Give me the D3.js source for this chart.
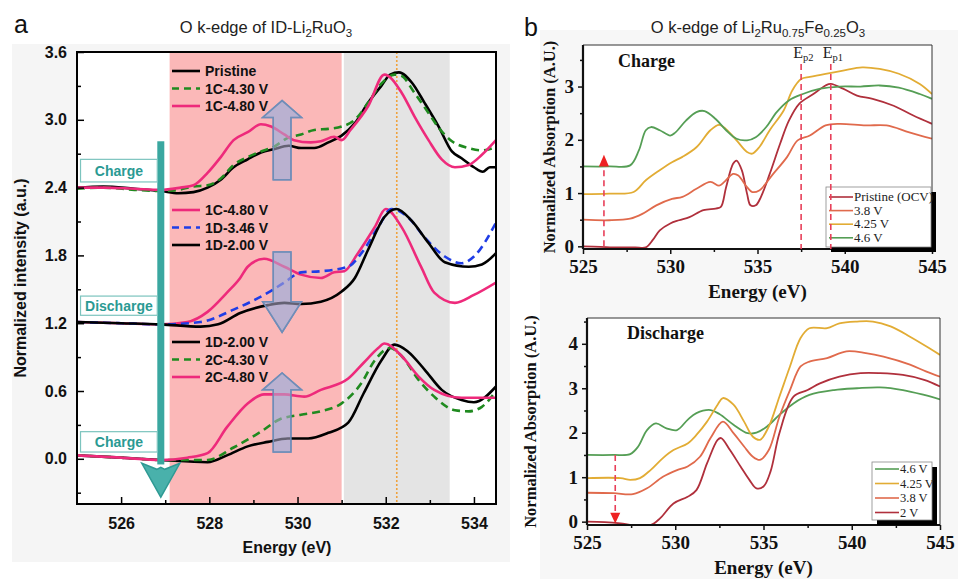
<!doctype html>
<html>
<head>
<meta charset="utf-8">
<script src="https://cdnjs.cloudflare.com/ajax/libs/d3/7.8.5/d3.min.js"></script>
<style>
  body { margin: 0; background: #fff; }
  svg { display: block; }
  .sans { font-family: 'Liberation Sans', Arial, sans-serif; }
  .serif { font-family: 'Liberation Serif', 'Times New Roman', serif; }
</style>
</head>
<body>
<script>
// ---------- panel a : O k-edge of ID-Li2RuO3 ----------
const aXTicks = [526, 528, 530, 532, 534]
const aYTicks = [0, 0.6, 1.2, 1.8, 2.4, 3.0, 3.6]
const aPinkBand = [527.1, 531.0]
const aGreyBand = [531.05, 533.45]
const aPeakLine = 532.25

// charge 1 (offset 2.4)
const pristine = [[525,2.40],[525.6,2.41],[526.3,2.39],[526.9,2.37],[527.3,2.35],[527.64,2.36],[527.96,2.40],[528.26,2.47],[528.55,2.58],[528.87,2.65],[529.17,2.71],[529.46,2.74],[529.8,2.77],[530.08,2.75],[530.38,2.75],[530.7,2.80],[531.0,2.86],[531.3,2.97],[531.6,3.15],[531.9,3.30],[532.1,3.40],[532.3,3.42],[532.59,3.33],[532.88,3.15],[533.2,2.94],[533.5,2.72],[533.72,2.66],[534.0,2.58],[534.2,2.54],[534.36,2.58],[534.5,2.58]]
const c1_430 = [[525,2.39],[525.6,2.40],[526.3,2.38],[526.9,2.37],[527.3,2.38],[527.64,2.41],[527.96,2.42],[528.26,2.48],[528.55,2.60],[528.87,2.67],[529.17,2.72],[529.46,2.76],[529.78,2.84],[530.08,2.87],[530.38,2.91],[530.7,2.92],[531.0,2.94],[531.3,3.0],[531.6,3.15],[531.9,3.32],[532.2,3.40],[532.35,3.39],[532.65,3.24],[532.97,3.06],[533.2,2.93],[533.5,2.81],[533.88,2.75],[534.18,2.73],[534.5,2.76]]
const c1_480 = [[525,2.40],[525.6,2.40],[526.3,2.39],[526.9,2.38],[527.35,2.40],[527.64,2.42],[527.96,2.53],[528.26,2.67],[528.55,2.82],[528.87,2.89],[529.17,2.96],[529.4,2.94],[529.7,2.87],[529.92,2.82],[530.3,2.80],[530.53,2.81],[530.83,2.85],[531.0,2.82],[531.2,2.91],[531.6,3.12],[531.97,3.40],[532.36,3.24],[532.65,3.03],[532.97,2.82],[533.27,2.65],[533.57,2.58],[533.88,2.60],[534.18,2.69],[534.5,2.82]]
// discharge 1 (offset 1.2)
const c1_480b = [[525,1.21],[526,1.20],[526.9,1.19],[527.5,1.21],[527.96,1.30],[528.4,1.47],[528.7,1.60],[528.87,1.70],[529.24,1.77],[529.7,1.70],[530.08,1.63],[530.53,1.60],[530.83,1.65],[531.06,1.66],[531.37,1.82],[531.75,2.05],[532.0,2.21],[532.36,2.05],[532.8,1.70],[533.1,1.47],[533.57,1.38],[534.0,1.45],[534.5,1.56]]
const d1_346 = [[525,1.21],[526,1.20],[526.9,1.19],[527.8,1.21],[528.55,1.32],[529.33,1.47],[529.7,1.56],[530.08,1.65],[530.53,1.66],[531.15,1.70],[531.45,1.82],[531.83,2.05],[532.13,2.21],[532.5,2.14],[532.88,1.96],[533.34,1.79],[533.72,1.73],[534.0,1.79],[534.5,2.09]]
const d1_200 = [[525,1.21],[526,1.20],[526.9,1.19],[527.8,1.17],[528.2,1.19],[528.7,1.29],[529.33,1.36],[529.7,1.38],[530.08,1.37],[530.53,1.39],[531.0,1.48],[531.3,1.60],[531.6,1.85],[531.97,2.14],[532.24,2.21],[532.58,2.11],[532.97,1.91],[533.34,1.74],[533.88,1.70],[534.18,1.72],[534.5,1.82]]
// charge 2 (offset 0)
const d1_200b = [[525,0.03],[526,0.01],[526.9,-0.01],[527.96,-0.03],[528.4,0.03],[528.87,0.11],[529.33,0.15],[529.78,0.18],[530.24,0.18],[530.7,0.23],[531.15,0.32],[531.5,0.58],[531.9,0.87],[532.2,1.01],[532.5,0.95],[532.88,0.79],[533.27,0.61],[533.72,0.52],[534.0,0.50],[534.5,0.64]]
const c2_430 = [[525,0.03],[526,0.01],[526.9,-0.01],[527.96,-0.01],[528.55,0.10],[529.17,0.24],[529.6,0.35],[530.08,0.39],[530.53,0.42],[531.0,0.49],[531.45,0.67],[531.75,0.87],[532.1,0.98],[532.36,0.91],[532.74,0.70],[533.1,0.55],[533.57,0.43],[533.88,0.42],[534.18,0.46],[534.5,0.60]]
const c2_480 = [[525,0.03],[526,0.01],[526.9,-0.01],[527.5,0.01],[527.96,0.05],[528.4,0.28],[528.87,0.49],[529.24,0.57],[529.7,0.57],[530.15,0.55],[530.53,0.61],[531.15,0.71],[531.5,0.85],[531.83,0.98],[531.97,1.02],[532.36,0.91],[532.74,0.73],[533.1,0.61],[533.72,0.54],[534.18,0.54],[534.5,0.54]]

const aGroups = [
  { labels: ['Pristine', '1C-4.30 V', '1C-4.80 V'], series: [pristine, c1_430, c1_480], kinds: ['black', 'green', 'pink'] },
  { labels: ['1C-4.80 V', '1D-3.46 V', '1D-2.00 V'], series: [c1_480b, d1_346, d1_200], kinds: ['pink', 'blue', 'black'] },
  { labels: ['1D-2.00 V', '2C-4.30 V', '2C-4.80 V'], series: [d1_200b, c2_430, c2_480], kinds: ['black', 'green', 'pink'] }
]
const stateLabels = ['Charge', 'Discharge', 'Charge']
// block arrows: [energy, tail, headBase, tip]
const blockArrows = [[529.65, 2.47, 3.02, 3.17], [529.65, 1.83, 1.39, 1.12], [529.65, 0.06, 0.61, 0.76]]

// ---------- panel b : O k-edge of Li2Ru0.75Fe0.25O3 ----------
const bXTicks = [525, 530, 535, 540, 545]
const chargeLabels = ['Pristine (OCV)', '3.8 V', '4.25 V', '4.6 V']
const chPristine = [[525,0],[526,-0.01],[527,-0.02],[528,-0.02],[528.6,-0.02],[529.0,0.12],[529.4,0.30],[530.0,0.43],[530.5,0.49],[531.1,0.55],[531.9,0.68],[532.6,0.71],[532.9,0.74],[533.2,1.11],[533.6,1.55],[533.8,1.61],[534.1,1.43],[534.4,0.99],[534.6,0.77],[534.9,0.77],[535.2,0.93],[535.7,1.36],[536.3,1.93],[536.8,2.36],[537.4,2.68],[538.2,2.86],[538.9,3.02],[539.2,3.05],[539.9,2.96],[540.7,2.83],[541.6,2.77],[542.8,2.64],[543.9,2.46],[545,2.30]]
const ch38 = [[525,0.50],[526.5,0.49],[527.7,0.52],[528.4,0.61],[529.2,0.77],[530.1,0.89],[530.7,0.93],[531.5,1.08],[532.3,1.21],[532.8,1.14],[533.1,1.21],[533.6,1.36],[533.9,1.33],[534.4,1.11],[534.7,1.02],[535.1,1.05],[535.9,1.36],[536.7,1.68],[537.3,1.99],[538.0,2.08],[538.9,2.27],[539.7,2.30],[541.2,2.27],[542.4,2.27],[543.7,2.14],[545,2.02]]
const ch425 = [[525,0.98],[526.5,0.99],[527.9,1.02],[528.6,1.24],[529.4,1.43],[530.1,1.58],[530.7,1.68],[531.5,1.86],[532.3,2.18],[532.8,2.28],[533.2,2.20],[533.8,1.99],[534.4,1.77],[534.7,1.74],[535.1,1.86],[535.7,2.18],[536.5,2.55],[537.0,2.93],[537.5,3.14],[538.0,3.18],[538.9,3.24],[539.9,3.30],[541.0,3.36],[542.0,3.33],[543.1,3.24],[544.3,3.05],[545,2.86]]
const ch46 = [[525,1.50],[526.5,1.50],[527.7,1.52],[528.2,1.80],[528.6,2.18],[528.9,2.24],[529.4,2.18],[530.0,2.08],[530.3,2.14],[530.9,2.36],[531.5,2.52],[531.97,2.54],[532.6,2.39],[533.2,2.18],[533.8,2.02],[534.4,1.99],[534.9,2.05],[535.5,2.24],[536.1,2.52],[536.8,2.74],[537.6,2.86],[538.6,2.96],[539.7,3.00],[540.9,3.00],[542.0,3.02],[543.1,2.98],[544.3,2.86],[545,2.77]]
const epLines = [537.5, 539.2]

const dischargeLabels = ['4.6 V', '4.25 V', '3.8 V', '2 V']
const dc46 = [[525,1.50],[526.5,1.50],[527.45,1.52],[527.9,1.69],[528.4,2.06],[528.9,2.21],[529.5,2.10],[530.1,2.06],[530.7,2.29],[531.2,2.44],[532.0,2.51],[532.5,2.42],[533.3,2.18],[534.1,1.99],[534.6,2.00],[535.2,2.14],[535.9,2.40],[536.7,2.66],[537.6,2.85],[539.0,2.96],[540.3,3.00],[541.6,3.02],[542.9,2.96],[544.1,2.85],[545,2.75]]
const dc425 = [[525,0.98],[526.9,0.98],[527.45,0.94],[528.0,0.98],[528.6,1.16],[529.3,1.43],[529.9,1.61],[530.7,1.76],[531.2,1.95],[531.8,2.25],[532.4,2.63],[532.7,2.78],[533.3,2.63],[533.9,2.25],[534.4,1.91],[534.8,1.84],[535.3,2.14],[535.9,2.81],[536.5,3.49],[537.1,4.13],[537.6,4.35],[538.6,4.35],[539.3,4.46],[540.3,4.50],[541.2,4.50],[542.2,4.39],[543.3,4.16],[544.4,3.90],[545,3.75]]
const dc38 = [[525,0.65],[526.5,0.64],[527.6,0.62],[528.4,0.75],[529.3,1.01],[530.1,1.16],[530.7,1.24],[531.4,1.46],[532.0,1.88],[532.7,2.25],[533.3,1.99],[533.9,1.69],[534.4,1.46],[534.8,1.39],[535.3,1.61],[535.9,2.36],[536.5,2.96],[537.1,3.49],[537.6,3.60],[538.6,3.68],[539.7,3.83],[540.8,3.79],[541.8,3.71],[543.3,3.53],[544.2,3.38],[545,3.26]]
const dc2 = [[525,0],[526,-0.01],[526.9,-0.04],[527.6,-0.08],[528.6,-0.08],[529.15,0.08],[529.9,0.41],[530.7,0.56],[531.2,0.71],[531.8,1.31],[532.4,1.84],[532.6,1.88],[533.1,1.61],[533.7,1.24],[534.2,0.94],[534.6,0.75],[535.0,0.79],[535.4,1.13],[535.9,1.99],[536.7,2.81],[537.5,2.96],[538.2,3.11],[539.3,3.26],[540.5,3.34],[541.6,3.34],[542.9,3.30],[544.1,3.19],[545,3.04]]

const W = 964, H = 579
const svg = d3.select('body').append('svg').attr('width', W).attr('height', H)

// faint figure backgrounds
svg.append('rect').attr('x', 12).attr('y', 44).attr('width', 498).attr('height', 518).attr('fill', '#f5f5f5')
svg.append('rect').attr('x', 540).attr('y', 30).attr('width', 418).attr('height', 549).attr('fill', '#f7f7f7')

// ================= PANEL A =================
const ax = d3.scaleLinear().domain([525, 534.5]).range([77, 496])
const ay = d3.scaleLinear().domain([-0.4, 3.6]).range([504, 52])
const pa = svg.append('g').attr('class', 'sans')

pa.append('rect').attr('x', ax(525)).attr('y', ay(3.6)).attr('width', ax(534.5) - ax(525)).attr('height', ay(-0.4) - ay(3.6)).attr('fill', '#fff')
pa.append('rect').attr('x', ax(aPinkBand[0])).attr('y', ay(3.6)).attr('width', ax(aPinkBand[1]) - ax(aPinkBand[0])).attr('height', ay(-0.4) - ay(3.6)).attr('fill', '#fbb8b8')
pa.append('rect').attr('x', ax(aGreyBand[0])).attr('y', ay(3.6)).attr('width', ax(aGreyBand[1]) - ax(aGreyBand[0])).attr('height', ay(-0.4) - ay(3.6)).attr('fill', '#e4e4e4')
pa.append('line').attr('x1', ax(aPeakLine)).attr('x2', ax(aPeakLine)).attr('y1', ay(3.6)).attr('y2', ay(-0.4))
  .attr('stroke', '#f0a23c').attr('stroke-width', 1.6).attr('stroke-dasharray', '2,2')

pa.append('defs').append('clipPath').attr('id', 'clipA').append('rect')
  .attr('x', ax(525)).attr('y', ay(3.6)).attr('width', ax(534.5) - ax(525)).attr('height', ay(-0.4) - ay(3.6))

const styleA = {
  black: { stroke: '#000', dash: null },
  green: { stroke: '#1f8a1f', dash: '8,5' },
  pink: { stroke: '#ee2a7b', dash: null },
  blue: { stroke: '#1f3de6', dash: '8,5' }
}
const lineA = d3.line().x(d => ax(d[0])).y(d => ay(d[1])).curve(d3.curveMonotoneX)
const arrowLine = d3.line().x(d => ax(d[0])).y(d => ay(d[1]))

function blockArrow(b, opacity) {
  const [e, tail, base, tip] = b
  const bw = 0.2, hw = 0.44
  const pts = [[e - bw, tail], [e - bw, base], [e - hw, base], [e, tip], [e + hw, base], [e + bw, base], [e + bw, tail]]
  pa.append('path').attr('d', arrowLine(pts) + 'Z')
    .attr('fill', '#b7b1d2').attr('fill-opacity', opacity)
    .attr('stroke', '#6f8db8').attr('stroke-width', 1.5)
}
blockArrows.forEach(b => blockArrow(b, 0.9))

const curvesA = pa.append('g').attr('clip-path', 'url(#clipA)')
aGroups.forEach(g => {
  g.series.forEach((s, i) => {
    const st = styleA[g.kinds[i]]
    curvesA.append('path').datum(s).attr('d', lineA)
      .attr('fill', 'none').attr('stroke', st.stroke).attr('stroke-width', 2.6)
      .attr('stroke-dasharray', st.dash)
  })
})
// the arrows sit partly over the curves in the reference
blockArrows.forEach(b => blockArrow(b, 0.55))

// legends
const legTops = [71, 210, 342]
aGroups.forEach((g, gi) => {
  g.labels.forEach((lab, i) => {
    const st = styleA[g.kinds[i]]
    const yy = legTops[gi] + i * 17.5
    pa.append('line').attr('x1', 172).attr('x2', 200).attr('y1', yy).attr('y2', yy)
      .attr('stroke', st.stroke).attr('stroke-width', 2.6).attr('stroke-dasharray', st.dash ? '7,5' : null)
    pa.append('text').attr('x', 205).attr('y', yy + 5).text(lab)
      .attr('font-size', 14).attr('font-weight', 'bold').attr('fill', '#111')
  })
})

// teal charge/discharge arrow
const tealX = ax(526.9)
pa.append('rect').attr('x', tealX - 3.5).attr('y', ay(2.81)).attr('width', 7).attr('height', ay(-0.05) - ay(2.81)).attr('fill', '#3aa7a0')
pa.append('path')
  .attr('d', `M${tealX - 19},${ay(-0.04)} L${tealX - 4},${ay(-0.04) + 6} L${tealX},${ay(-0.04) + 4} L${tealX + 4},${ay(-0.04) + 6} L${tealX + 19},${ay(-0.04)} L${tealX},${ay(-0.34)} Z`)
  .attr('fill', '#49b1ab').attr('stroke', '#2f9a94').attr('stroke-width', 1.5)

const boxes = [[2.65, 2.45], [1.44, 1.27], [0.24, 0.06]]
boxes.forEach((b, i) => {
  pa.append('rect').attr('x', ax(525.08)).attr('y', ay(b[0])).attr('width', ax(526.82) - ax(525.08)).attr('height', ay(b[1]) - ay(b[0]))
    .attr('fill', '#fff').attr('stroke', '#7cc4be').attr('stroke-width', 1.2)
  pa.append('text').attr('x', (ax(525.08) + ax(526.82)) / 2).attr('y', (ay(b[0]) + ay(b[1])) / 2 + 5)
    .attr('text-anchor', 'middle').attr('font-size', 14).attr('font-weight', 'bold').attr('fill', '#2a9a93')
    .text(stateLabels[i])
})

// axes
const axA = pa.append('g').attr('transform', `translate(0,${ay(-0.4)})`)
  .call(d3.axisBottom(ax).tickValues(aXTicks).tickSize(-7).tickPadding(14).tickFormat(d3.format('d')))
const axAm = pa.append('g').attr('transform', `translate(0,${ay(-0.4)})`)
  .call(d3.axisBottom(ax).tickValues([527, 529, 531, 533]).tickSize(-4).tickFormat(''))
const ayA = pa.append('g').attr('transform', `translate(${ax(525)},0)`)
  .call(d3.axisLeft(ay).tickValues(aYTicks).tickSize(-7).tickPadding(10).tickFormat(d3.format('.1f')))
const ayAm = pa.append('g').attr('transform', `translate(${ax(525)},0)`)
  .call(d3.axisLeft(ay).tickValues([-0.3, 0.3, 0.9, 1.5, 2.1, 2.7, 3.3]).tickSize(-4).tickFormat(''))
;[axA, axAm, ayA, ayAm].forEach(g => {
  g.select('.domain').remove()
  g.selectAll('line').attr('stroke', '#000').attr('stroke-width', 1.5)
  g.selectAll('text').attr('font-size', 16).attr('font-weight', 'bold').attr('fill', '#111')
    .attr('font-family', "'Liberation Sans', Arial, sans-serif")
})
pa.append('rect').attr('x', ax(525)).attr('y', ay(3.6)).attr('width', ax(534.5) - ax(525)).attr('height', ay(-0.4) - ay(3.6))
  .attr('fill', 'none').attr('stroke', '#000').attr('stroke-width', 2)

pa.append('text').attr('x', 287).attr('y', 553).attr('text-anchor', 'middle')
  .attr('font-size', 16).attr('font-weight', 'bold').attr('fill', '#111').text('Energy (eV)')
pa.append('text').attr('transform', 'translate(26,278) rotate(-90)').attr('text-anchor', 'middle')
  .attr('font-size', 16).attr('font-weight', 'bold').attr('fill', '#111').text('Normalized intensity (a.u.)')

const tA = pa.append('text').attr('x', 266).attr('y', 33).attr('text-anchor', 'middle').attr('font-size', 16.5).attr('fill', '#222')
tA.append('tspan').text('O k-edge of ID-Li')
tA.append('tspan').attr('font-size', 11.5).attr('dy', 4).text('2')
tA.append('tspan').attr('dy', -4).text('RuO')
tA.append('tspan').attr('font-size', 11.5).attr('dy', 4).text('3')
pa.append('text').attr('x', 14).attr('y', 33).attr('font-size', 25).attr('fill', '#111').text('a')

// ================= PANEL B =================
const colB = { pristine: '#b0303c', v38: '#e06a4c', v425: '#e2ac34', v46: '#559e55' }

function panelB(opts) {
  const x = d3.scaleLinear().domain([525, 545]).range(opts.xr)
  const y = d3.scaleLinear().domain(opts.yd).range(opts.yr)
  const g = svg.append('g').attr('class', 'serif')
  const clipId = 'clip' + opts.id
  g.append('defs').append('clipPath').attr('id', clipId).append('rect')
    .attr('x', opts.xr[0]).attr('y', opts.yr[1]).attr('width', opts.xr[1] - opts.xr[0]).attr('height', opts.yr[0] - opts.yr[1])
  g.append('rect').attr('x', opts.xr[0]).attr('y', opts.yr[1]).attr('width', opts.xr[1] - opts.xr[0]).attr('height', opts.yr[0] - opts.yr[1]).attr('fill', '#fff')

  const line = d3.line().x(d => x(d[0])).y(d => y(d[1])).curve(d3.curveCatmullRom.alpha(0.5))
  const cg = g.append('g').attr('clip-path', `url(#${clipId})`)
  opts.series.forEach((s, i) => {
    cg.append('path').datum(s).attr('d', line).attr('fill', 'none')
      .attr('stroke', opts.colors[i]).attr('stroke-width', 1.8)
  })

  // axes
  const xa = g.append('g').attr('transform', `translate(0,${opts.yr[0]})`)
    .call(d3.axisBottom(x).tickValues(bXTicks).tickSize(5).tickPadding(6).tickFormat(d3.format('d')))
  const xm = g.append('g').attr('transform', `translate(0,${opts.yr[0]})`)
    .call(d3.axisBottom(x).tickValues([527.5, 532.5, 537.5, 542.5]).tickSize(3).tickFormat(''))
  const ya = g.append('g').attr('transform', `translate(${opts.xr[0]},0)`)
    .call(d3.axisLeft(y).tickValues(opts.yTicks).tickSize(5).tickPadding(4).tickFormat(d3.format('d')))
  const ym = g.append('g').attr('transform', `translate(${opts.xr[0]},0)`)
    .call(d3.axisLeft(y).tickValues(opts.yMinor).tickSize(3).tickFormat(''))
  ;[xa, xm, ya, ym].forEach(a => {
    a.select('.domain').remove()
    a.selectAll('line').attr('stroke', '#111').attr('stroke-width', 1.5)
    a.selectAll('text').attr('font-size', 19).attr('font-weight', 'bold').attr('fill', '#111')
      .attr('font-family', "'Liberation Serif', 'Times New Roman', serif")
  })
  g.append('line').attr('x1', opts.xr[0]).attr('x2', opts.xr[1]).attr('y1', opts.yr[1]).attr('y2', opts.yr[1]).attr('stroke', '#333').attr('stroke-width', 1)
  g.append('line').attr('x1', opts.xr[1]).attr('x2', opts.xr[1]).attr('y1', opts.yr[1]).attr('y2', opts.yr[0]).attr('stroke', '#333').attr('stroke-width', 1)
  g.append('line').attr('x1', opts.xr[0]).attr('x2', opts.xr[1]).attr('y1', opts.yr[0]).attr('y2', opts.yr[0]).attr('stroke', '#111').attr('stroke-width', 2.2)
  g.append('line').attr('x1', opts.xr[0]).attr('x2', opts.xr[0]).attr('y1', opts.yr[1]).attr('y2', opts.yr[0]).attr('stroke', '#111').attr('stroke-width', 2.2)

  // legend with drop shadow
  const lb = opts.legend
  g.append('rect').attr('x', lb.x + 5).attr('y', lb.y + 5).attr('width', lb.w).attr('height', lb.h).attr('fill', '#000')
  g.append('rect').attr('x', lb.x).attr('y', lb.y).attr('width', lb.w).attr('height', lb.h)
    .attr('fill', '#fff').attr('stroke', '#888').attr('stroke-width', 0.8)
  opts.labels.forEach((lab, i) => {
    const yy = lb.y + lb.top + i * lb.step
    g.append('line').attr('x1', lb.x + 3).attr('x2', lb.x + 27).attr('y1', yy).attr('y2', yy)
      .attr('stroke', opts.colors[i]).attr('stroke-width', 1.6)
    g.append('text').attr('x', lb.x + 28).attr('y', yy + 4).attr('font-size', lb.fs).attr('fill', '#222').text(lab)
  })

  g.append('text').attr('x', opts.tag[0]).attr('y', opts.tag[1]).attr('font-size', 18).attr('font-weight', 'bold')
    .attr('fill', '#111').text(opts.tagText)
  g.append('text').attr('x', (opts.xr[0] + opts.xr[1]) / 2).attr('y', opts.yr[0] + 49).attr('text-anchor', 'middle')
    .attr('font-size', 19).attr('font-weight', 'bold').attr('fill', '#111').text('Energy (eV)')
  g.append('text').attr('transform', `translate(${opts.ylabX},${(opts.yr[0] + opts.yr[1]) / 2}) rotate(-90)`)
    .attr('text-anchor', 'middle').attr('font-size', 16.5).attr('font-weight', 'bold').attr('fill', '#111')
    .text('Normalized Absorption (A.U.)')
  return { x, y, g }
}

const chargePanel = panelB({
  id: 'B1', xr: [583, 932], yr: [249, 45], yd: [-0.05, 3.78],
  yTicks: [0, 1, 2, 3], yMinor: [0.5, 1.5, 2.5, 3.5],
  series: [chPristine, ch38, ch425, ch46],
  colors: [colB.pristine, colB.v38, colB.v425, colB.v46],
  labels: chargeLabels,
  legend: { x: 826, y: 187, w: 105, h: 60, top: 10, step: 13.6, fs: 13 },
  tag: [618, 67], tagText: 'Charge', ylabX: 555
})
// Ep markers
epLines.forEach((e, i) => {
  chargePanel.g.append('line').attr('x1', chargePanel.x(e)).attr('x2', chargePanel.x(e)).attr('y1', 64).attr('y2', chargePanel.y(-0.05))
    .attr('stroke', '#e8405a').attr('stroke-width', 1.6).attr('stroke-dasharray', '6,4')
  const t = chargePanel.g.append('text').attr('x', chargePanel.x(e) - 8).attr('y', 58).attr('font-size', 16).attr('fill', '#222')
  t.append('tspan').text('E')
  t.append('tspan').attr('font-size', 10.5).attr('dy', 3).text(i === 0 ? 'p2' : 'p1')
})
const upX = chargePanel.x(526.2)
chargePanel.g.append('line').attr('x1', upX).attr('x2', upX).attr('y1', chargePanel.y(0)).attr('y2', chargePanel.y(1.55))
  .attr('stroke', '#e8405a').attr('stroke-width', 1.6).attr('stroke-dasharray', '6,4')
chargePanel.g.append('path').attr('d', `M${upX - 5},${chargePanel.y(1.5)} L${upX + 5},${chargePanel.y(1.5)} L${upX},${chargePanel.y(1.72)} Z`).attr('fill', '#ee2222')

const dischargePanel = panelB({
  id: 'B2', xr: [587, 940], yr: [525, 318], yd: [-0.075, 4.58],
  yTicks: [0, 1, 2, 3, 4], yMinor: [0.5, 1.5, 2.5, 3.5, 4.5],
  series: [dc46, dc425, dc38, dc2],
  colors: [colB.v46, colB.v425, colB.v38, colB.pristine],
  labels: dischargeLabels,
  legend: { x: 872, y: 462, w: 60, h: 58, top: 7, step: 14.5, fs: 12.5 },
  tag: [627, 339], tagText: 'Discharge', ylabX: 536
})
const downX = dischargePanel.x(526.6)
dischargePanel.g.append('line').attr('x1', downX).attr('x2', downX).attr('y1', dischargePanel.y(1.5)).attr('y2', dischargePanel.y(0.15))
  .attr('stroke', '#e8405a').attr('stroke-width', 1.6).attr('stroke-dasharray', '6,4')
dischargePanel.g.append('path').attr('d', `M${downX - 5},${dischargePanel.y(0.2)} L${downX + 5},${dischargePanel.y(0.2)} L${downX},${dischargePanel.y(-0.04)} Z`).attr('fill', '#ee2222')

const tB = svg.append('text').attr('class', 'sans').attr('x', 758).attr('y', 33).attr('text-anchor', 'middle').attr('font-size', 16.5).attr('fill', '#222')
tB.append('tspan').text('O k-edge of Li')
tB.append('tspan').attr('font-size', 11.5).attr('dy', 4).text('2')
tB.append('tspan').attr('dy', -4).text('Ru')
tB.append('tspan').attr('font-size', 11.5).attr('dy', 4).text('0.75')
tB.append('tspan').attr('dy', -4).text('Fe')
tB.append('tspan').attr('font-size', 11.5).attr('dy', 4).text('0.25')
tB.append('tspan').attr('dy', -4).text('O')
tB.append('tspan').attr('font-size', 11.5).attr('dy', 4).text('3')
svg.append('text').attr('class', 'sans').attr('x', 524).attr('y', 36).attr('font-size', 25).attr('fill', '#111').text('b')
</script>
</body>
</html>
